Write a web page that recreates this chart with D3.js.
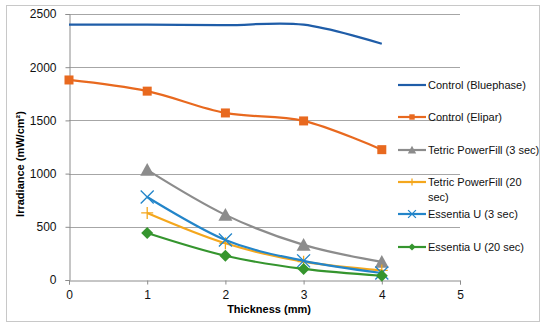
<!DOCTYPE html>
<html>
<head>
<meta charset="utf-8">
<script src="https://cdn.jsdelivr.net/npm/d3@7"></script>
<style>
  body { margin: 0; background: #fff; }
  text { font-family: "Liberation Sans", Arial, sans-serif; }
</style>
</head>
<body>
<svg width="550" height="328"></svg>
<script>
// thickness in mm
var thickness = [0, 1, 2, 3, 4];
var seriesNames = ["Control (Bluephase)", "Control (Elipar)", "Tetric PowerFill (3 sec)",
  "Tetric PowerFill (20 sec)", "Essentia U (3 sec)", "Essentia U (20 sec)"];
var bluephase = [2400, 2400, 2395, 2400, 2220];
var elipar = [1880, 1775, 1570, 1495, 1225];
var tetric3 = [null, 1035, 612, 330, 170];
var tetric20 = [null, 630, 345, 172, 90];
var essentia3 = [null, 780, 376, 180, 66];
var essentia20 = [null, 442, 228, 104, 40];
var yTicks = [0, 500, 1000, 1500, 2000, 2500];
var xTicks = [0, 1, 2, 3, 4, 5];

var colors = ["#1f5da8", "#e8691f", "#8c8c8c", "#f4a71d", "#2385c9", "#35952e"];
var markers = ["none", "square", "triangle", "plus", "cross", "diamond"];
var allValues = [bluephase, elipar, tetric3, tetric20, essentia3, essentia20];

var svg = d3.select("svg");

// outer frame
svg.append("rect")
  .attr("x", 6.5).attr("y", 5.5)
  .attr("width", 533).attr("height", 316)
  .attr("fill", "none").attr("stroke", "#c8c8c8");

var x = d3.scaleLinear().domain([0, 5]).range([69, 460]);
var y = d3.scaleLinear().domain([0, 2500]).range([280, 14]);

// gridlines
svg.append("g").selectAll("line")
  .data(yTicks.filter(function(d) { return d > 0; }))
  .enter().append("line")
  .attr("x1", x(0)).attr("x2", x(5))
  .attr("y1", function(d) { return Math.round(y(d)) + 0.5; })
  .attr("y2", function(d) { return Math.round(y(d)) + 0.5; })
  .attr("stroke", "#a6a6a6").attr("stroke-width", 1);

// y axis
var yAxis = svg.append("g")
  .attr("transform", "translate(" + (x(0) + 0.5) + ",0)")
  .call(d3.axisLeft(y).tickValues(yTicks).tickFormat(d3.format("d")).tickSize(4).tickPadding(9));
// x axis
var xAxis = svg.append("g")
  .attr("transform", "translate(0," + (y(0) + 0.5) + ")")
  .call(d3.axisBottom(x).tickValues(xTicks).tickFormat(d3.format("d")).tickSize(4).tickPadding(6));

[yAxis, xAxis].forEach(function(ax) {
  ax.select(".domain").attr("stroke", "#8c8c8c");
  ax.selectAll(".tick line").attr("stroke", "#8c8c8c");
  ax.selectAll(".tick text").attr("fill", "#111").style("font-size", "12px")
    .style("font-family", "Liberation Sans, Arial, sans-serif");
});

// axis titles
svg.append("text")
  .attr("transform", "translate(24,164) rotate(-90)")
  .attr("text-anchor", "middle")
  .style("font-size", "11px").style("font-weight", "bold")
  .text("Irradiance (mW/cm²)");
svg.append("text")
  .attr("x", 269).attr("y", 313)
  .attr("text-anchor", "middle")
  .style("font-size", "11px").style("font-weight", "bold")
  .text("Thickness (mm)");

var line = d3.line()
  .defined(function(d) { return d[1] !== null; })
  .x(function(d) { return x(d[0]); })
  .y(function(d) { return y(d[1]); })
  .curve(d3.curveCardinal.tension(0));

function drawMarker(g, type, cx, cy, size, color) {
  var s = size / 2;
  if (type === "square") {
    g.append("rect").attr("x", cx - s).attr("y", cy - s)
      .attr("width", size).attr("height", size).attr("fill", color);
  } else if (type === "triangle") {
    g.append("path").attr("d", "M" + cx + "," + (cy - s) + "L" + (cx + s) + "," + (cy + s * 0.85) +
      "L" + (cx - s) + "," + (cy + s * 0.85) + "Z").attr("fill", color);
  } else if (type === "diamond") {
    g.append("path").attr("d", "M" + cx + "," + (cy - s) + "L" + (cx + s) + "," + cy +
      "L" + cx + "," + (cy + s) + "L" + (cx - s) + "," + cy + "Z").attr("fill", color);
  } else if (type === "plus") {
    g.append("path").attr("d", "M" + (cx - s) + "," + cy + "H" + (cx + s) + "M" + cx + "," + (cy - s) + "V" + (cy + s))
      .attr("stroke", color).attr("stroke-width", 1.3);
  } else if (type === "cross") {
    g.append("path").attr("d", "M" + (cx - s) + "," + (cy - s) + "L" + (cx + s) + "," + (cy + s) +
      "M" + (cx + s) + "," + (cy - s) + "L" + (cx - s) + "," + (cy + s))
      .attr("stroke", color).attr("stroke-width", 1.3);
  }
}

var markerSize = { square: 9, triangle: 14, plus: 12, cross: 13, diamond: 12 };

allValues.forEach(function(vals, i) {
  var pts = thickness.map(function(t, j) { return [t, vals[j]]; });
  var g = svg.append("g");
  g.append("path").datum(pts)
    .attr("d", line)
    .attr("fill", "none")
    .attr("stroke", colors[i])
    .attr("stroke-width", 2.2);
  if (markers[i] !== "none") {
    pts.filter(function(p) { return p[1] !== null; }).forEach(function(p) {
      drawMarker(g, markers[i], x(p[0]), y(p[1]), markerSize[markers[i]], colors[i]);
    });
  }
});

// legend
var legendY = [85, 117, 150, 182, 214, 247];
var legend = svg.append("g");
seriesNames.forEach(function(name, i) {
  var ly = legendY[i];
  legend.append("line")
    .attr("x1", 398).attr("x2", 426).attr("y1", ly).attr("y2", ly)
    .attr("stroke", colors[i]).attr("stroke-width", 2.2);
  if (markers[i] !== "none") {
    drawMarker(legend, markers[i], 412, ly, markerSize[markers[i]] * 0.6, colors[i]);
  }
  var t = legend.append("text")
    .attr("x", 428).attr("y", ly + 4)
    .style("font-size", "11px").attr("fill", "#111");
  // wrap long labels
  var words = name.split(" "), lineText = [];
  var tspan = t.append("tspan").attr("x", 428).attr("dy", 0);
  words.forEach(function(w) {
    lineText.push(w);
    tspan.text(lineText.join(" "));
    if (tspan.node().getComputedTextLength() > 114 && lineText.length > 1) {
      lineText.pop();
      tspan.text(lineText.join(" "));
      lineText = [w];
      tspan = t.append("tspan").attr("x", 428).attr("dy", "1.35em").text(w);
    }
  });
});
</script>
</body>
</html>
